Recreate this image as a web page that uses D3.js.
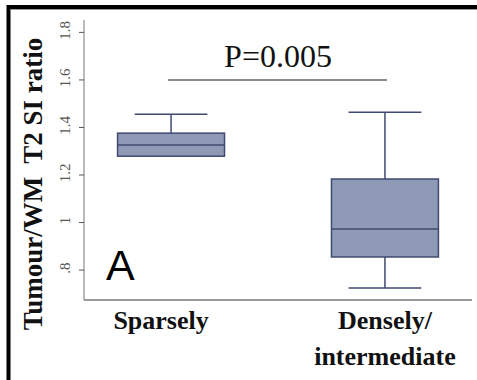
<!DOCTYPE html>
<html>
<head>
<meta charset="utf-8">
<script src="https://cdn.jsdelivr.net/npm/d3@7"></script>
<style>
  body { margin: 0; background: #fff; overflow: hidden; }
  svg { display: block; }
</style>
</head>
<body>
<svg width="477" height="380"></svg>
<script>
// box plot data
const groups = ["Sparsely", "Densely/intermediate"];
const labelLines = [["Sparsely"], ["Densely/", "intermediate"]];
const mins = [1.28, 0.723];
const q1s = [1.277, 0.853];
const medians = [1.324, 0.971];
const q3s = [1.374, 1.181];
const maxs = [1.454, 1.462];
const yTicks = [0.8, 1, 1.2, 1.4, 1.6, 1.8];
const pText = "P=0.005";

const data = groups.map((g, i) => ({
  group: g, lines: labelLines[i], min: mins[i], q1: q1s[i],
  med: medians[i], q3: q3s[i], max: maxs[i]
}));

const svg = d3.select("svg");
const serif = "'Liberation Serif', 'Times New Roman', serif";

const x = d3.scaleBand()
  .domain(groups)
  .range([84, 472])
  .paddingInner(0.5)
  .paddingOuter(0.157);

const y = d3.scaleLinear()
  .domain([0.672, 1.85])
  .range([300, 20]);

// frame: only the top and left edges are in view
svg.append("path")
  .attr("d", "M8.5,400V7H480")
  .attr("fill", "none")
  .attr("stroke", "#000")
  .attr("stroke-width", 4);
svg.append("line")
  .attr("x1", 11).attr("x2", 477).attr("y1", 9.5).attr("y2", 9.5)
  .attr("stroke", "#999").attr("stroke-width", 1);

// y axis
const yAxis = svg.append("g")
  .attr("transform", "translate(84,0)")
  .call(d3.axisLeft(y).tickValues(yTicks).tickSize(5)
    .tickFormat(d => d3.format("")(d).replace(/^0/, "")));
yAxis.select(".domain").attr("stroke", "#777").attr("d", "M0,20V300");
yAxis.selectAll(".tick line").attr("stroke", "#555");
// labels turned on their side next to each tick
yAxis.selectAll(".tick text")
  .attr("transform", "translate(-14,-2) rotate(-90)")
  .attr("x", 0).attr("y", 0)
  .attr("dy", null)
  .attr("text-anchor", "middle")
  .attr("fill", "#555")
  .style("font-family", serif)
  .style("font-size", "15px");

// x axis line
svg.append("line")
  .attr("x1", 84).attr("x2", 472)
  .attr("y1", 300).attr("y2", 300)
  .attr("stroke", "#777").attr("stroke-width", 1.5);

// y axis title
svg.append("text")
  .attr("transform", "translate(42,184) rotate(-90)")
  .attr("text-anchor", "middle")
  .style("font-family", serif)
  .style("font-weight", "bold")
  .style("font-size", "27px")
  .style("white-space", "pre")
  .attr("fill", "#111")
  .text("Tumour/WM  T2 SI ratio");

// boxes
const stroke = "#3f4a6e";
const bw = x.bandwidth();
const box = svg.selectAll(".box").data(data).enter().append("g").attr("class", "box");

box.append("line")
  .attr("x1", d => x(d.group) + bw / 2).attr("x2", d => x(d.group) + bw / 2)
  .attr("y1", d => y(d.max)).attr("y2", d => y(d.min))
  .attr("stroke", stroke).attr("stroke-width", 1.5);

box.append("line")
  .attr("x1", d => x(d.group) + bw * 0.16).attr("x2", d => x(d.group) + bw * 0.84)
  .attr("y1", d => y(d.max)).attr("y2", d => y(d.max))
  .attr("stroke", stroke).attr("stroke-width", 1.5);

box.filter(d => d.min < d.q1).append("line")
  .attr("x1", d => x(d.group) + bw * 0.16).attr("x2", d => x(d.group) + bw * 0.84)
  .attr("y1", d => y(d.min)).attr("y2", d => y(d.min))
  .attr("stroke", stroke).attr("stroke-width", 1.5);

box.append("rect")
  .attr("x", d => x(d.group)).attr("width", bw)
  .attr("y", d => y(d.q3)).attr("height", d => y(d.q1) - y(d.q3))
  .attr("fill", "#8f9bb6")
  .attr("stroke", stroke).attr("stroke-width", 1.5);

box.append("line")
  .attr("x1", d => x(d.group)).attr("x2", d => x(d.group) + bw)
  .attr("y1", d => y(d.med)).attr("y2", d => y(d.med))
  .attr("stroke", stroke).attr("stroke-width", 1.5);

// x labels
svg.selectAll(".xlab").data(data).enter().append("text")
  .attr("class", "xlab")
  .attr("text-anchor", "middle")
  .attr("x", (d, i) => x(d.group) + bw / 2 - (i ? 0 : 10))
  .attr("y", 329)
  .style("font-family", serif)
  .style("font-weight", "bold")
  .style("font-size", "26px")
  .attr("fill", "#111")
  .selectAll("tspan").data(d => d.lines).enter().append("tspan")
  .attr("x", function() { return d3.select(this.parentNode).attr("x"); })
  .attr("dy", (d, i) => i ? 36 : 0)
  .text(d => d);

// significance bar
const bx1 = x(groups[0]) + bw / 2, bx2 = x(groups[1]) + bw / 2;
svg.append("line")
  .attr("x1", bx1 - 3).attr("x2", bx2 + 2)
  .attr("y1", 80).attr("y2", 80)
  .attr("stroke", "#666").attr("stroke-width", 1.5);
svg.append("text")
  .attr("x", (bx1 + bx2) / 2).attr("y", 67)
  .attr("text-anchor", "middle")
  .style("font-family", serif)
  .style("font-size", "32px")
  .attr("fill", "#111")
  .text(pText);

// panel letter
svg.append("text")
  .attr("x", 106).attr("y", 280)
  .style("font-family", "'Liberation Sans', Arial, sans-serif")
  .style("font-size", "43px")
  .attr("fill", "#000")
  .text("A");
</script>
</body>
</html>
